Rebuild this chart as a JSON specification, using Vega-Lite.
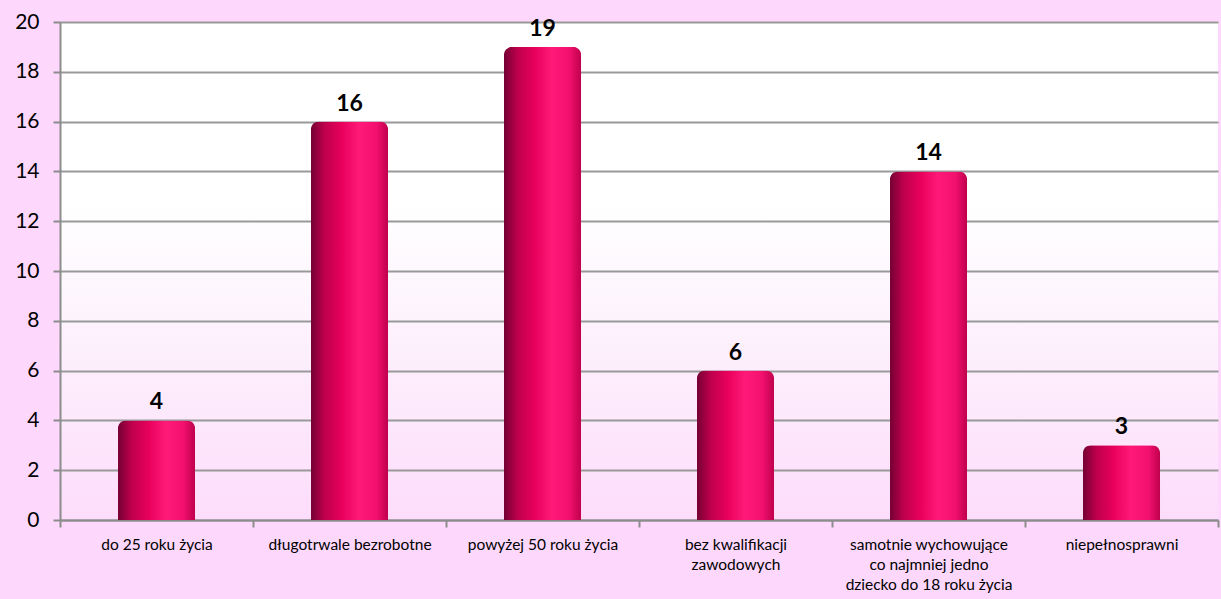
{
  "$schema": "https://vega.github.io/schema/vega-lite/v6.json",
  "width": 1158,
  "height": 498,
  "autosize": {"type": "none"},
  "padding": {"left": 60, "top": 22, "right": 3, "bottom": 79},
  "background": "#fdd8fc",
  "config": {
    "view": {
      "stroke": null,
      "fill": {
        "gradient": "linear",
        "x1": 0, "y1": 0, "x2": 0, "y2": 1,
        "stops": [
          {"offset": 0, "color": "#ffffff"},
          {"offset": 0.36, "color": "#ffffff"},
          {"offset": 0.6, "color": "#fdf3fd"},
          {"offset": 0.94, "color": "#fde0fb"},
          {"offset": 1, "color": "#fcdcfa"}
        ]
      }
    },
    "font": "Lato"
  },
  "data": {
    "values": [
      {"kategoria": "do 25 roku życia", "liczba": 4},
      {"kategoria": "długotrwale bezrobotne", "liczba": 16},
      {"kategoria": "powyżej 50 roku życia", "liczba": 19},
      {"kategoria": "bez kwalifikacji zawodowych", "liczba": 6},
      {"kategoria": "samotnie wychowujące co najmniej jedno dziecko do 18 roku życia", "liczba": 14},
      {"kategoria": "niepełnosprawni", "liczba": 3}
    ]
  },
  "encoding": {
    "x": {
      "field": "kategoria",
      "type": "nominal",
      "sort": null,
      "scale": {"paddingInner": 0, "paddingOuter": 0},
      "axis": {
        "title": null,
        "labelAngle": 0,
        "labelFont": "Lato",
        "labelFontSize": 15.5,
        "labelColor": "#000000",
        "labelPadding": 10,
        "labelLineHeight": 20,
        "labelLimit": 0,
        "tickBand": "extent",
        "tickSize": 7,
        "tickColor": "#8c8c8c",
        "tickWidth": 2,
        "domainColor": "#8c8c8c",
        "domainWidth": 2,
        "grid": false,
        "labelExpr": "datum.value == 'bez kwalifikacji zawodowych' ? ['bez kwalifikacji', 'zawodowych'] : datum.value == 'samotnie wychowujące co najmniej jedno dziecko do 18 roku życia' ? ['samotnie wychowujące', 'co najmniej jedno', 'dziecko do 18 roku życia'] : datum.value"
      }
    },
    "y": {
      "field": "liczba",
      "type": "quantitative",
      "scale": {"domain": [0, 20], "nice": false},
      "axis": {
        "title": null,
        "values": [0, 2, 4, 6, 8, 10, 12, 14, 16, 18, 20],
        "labelFont": "Lato",
        "labelFontSize": 21,
        "labelColor": "#000000",
        "labelPadding": 14,
        "tickSize": 7,
        "tickColor": "#8c8c8c",
        "tickWidth": 2,
        "domainColor": "#8c8c8c",
        "domainWidth": 2,
        "grid": true,
        "gridColor": "#999999",
        "gridWidth": 2
      }
    }
  },
  "layer": [
    {
      "mark": {
        "type": "bar",
        "width": {"band": 0.4},
        "cornerRadiusTopLeft": 8,
        "cornerRadiusTopRight": 8,
        "fill": {
          "gradient": "linear",
          "x1": 0, "y1": 0, "x2": 1, "y2": 0,
          "stops": [
            {"offset": 0, "color": "#740033"},
            {"offset": 0.18, "color": "#bf004d"},
            {"offset": 0.4, "color": "#e8005c"},
            {"offset": 0.62, "color": "#ff1a78"},
            {"offset": 0.85, "color": "#f2106e"},
            {"offset": 1, "color": "#bf004d"}
          ]
        }
      }
    },
    {
      "mark": {
        "type": "text",
        "baseline": "bottom",
        "dy": -6,
        "font": "Lato",
        "fontSize": 23,
        "fontWeight": "bold",
        "color": "#000000"
      },
      "encoding": {"text": {"field": "liczba", "type": "quantitative"}}
    }
  ]
}
